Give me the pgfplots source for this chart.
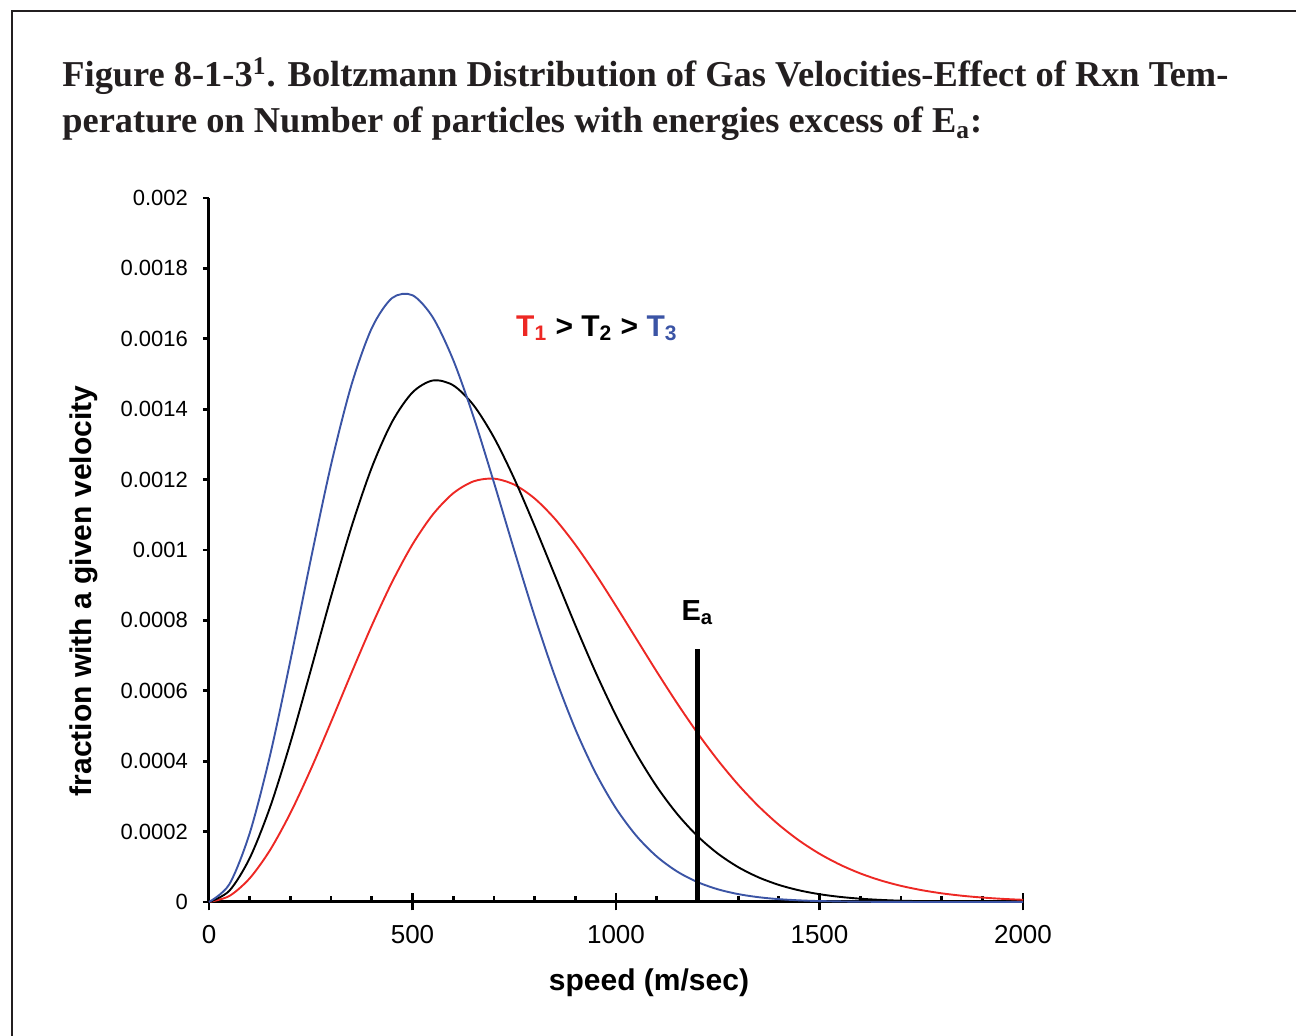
\documentclass[border=0pt]{standalone}
\usepackage{fontspec}
\setmainfont{Liberation Serif}
\newfontfamily\sansf{Liberation Sans}
\usepackage{pgfplots}
\pgfplotsset{compat=1.18}
\definecolor{tred}{RGB}{237,40,36}
\definecolor{tblue}{RGB}{59,84,165}
\definecolor{ink}{RGB}{35,31,32}
\pgfplotsset{
  frame/.style={
    at={(0,0)}, anchor=south west, scale only axis, width=407pt, height=352pt,
    xmin=0, xmax=2000, ymin=0, ymax=0.002,
    axis lines*=left,
    axis line style={line width=1.5pt, black},
    every tick/.style={black, line width=1.4pt},
  }
}
\begin{document}
\begin{tikzpicture}
\path[use as bounding box] (-104.5pt,-67pt) rectangle (543.5pt,451pt);
\draw[ink, line width=1pt] (-98.5pt,-80pt) -- (-98.5pt,445.5pt) -- (560pt,445.5pt);
\node[anchor=base west, inner sep=0pt, text=ink, font=\fontsize{18.2}{22}\selectfont\bfseries] at (-73.5pt,407.5pt)
  {Figure 8-1-3\textsuperscript{1}. Boltzmann Distribution of Gas Velocities-Effect of Rxn Tem-};
\node[anchor=base west, inner sep=0pt, text=ink, font=\fontsize{18.2}{22}\selectfont\bfseries] at (-73.5pt,384.5pt)
  {perature on Number of particles with energies excess of E\textsubscript{a}:};
\node[rotate=90, anchor=center, font=\sansf\bfseries\fontsize{15}{18}\selectfont] at (-62.5pt,155.5pt) {fraction with a given velocity};
\node[anchor=center, font=\sansf\bfseries\fontsize{15}{18}\selectfont] at (220pt,-40.5pt) {speed (m/sec)};
% major x ticks crossing the axis
\begin{axis}[frame,
  tick align=center, major tick length=8.5pt,
  xtick={0,500,1000,1500,2000}, xticklabels={},
  ytick=\empty,
]
\end{axis}
% minor x ticks inside
\begin{axis}[frame,
  tick align=inside, major tick length=3pt, minor tick length=3pt,
  xtick={0,500,1000,1500,2000}, xticklabels={}, minor x tick num=4,
  ytick=\empty,
]
\end{axis}
% main axis with data
\begin{axis}[frame,
  clip=false,
  /pgf/number format/assume math mode=true,
  tick align=outside,
  major tick length=3pt,
  xtick={0,500,1000,1500,2000},
  xticklabels={0,500,1000,1500,2000},
  ytick={0,0.0002,0.0004,0.0006,0.0008,0.001,0.0012,0.0014,0.0016,0.0018,0.002},
  yticklabels={0,0.0002,0.0004,0.0006,0.0008,0.001,0.0012,0.0014,0.0016,0.0018,0.002},
  scaled y ticks=false,
  xticklabel style={font=\sansf\fontsize{13}{15}\selectfont, yshift=-5pt},
  yticklabel style={font=\sansf\fontsize{11}{13}\selectfont, xshift=-4pt},
]
\addplot[tred, line width=0.95pt, smooth] coordinates {
(0,0) (50,1.708e-5) (100,6.727e-5) (150,1.4743e-4) (200,2.5264e-4) (250,3.7654e-4) (300,5.1178e-4) (350,6.5063e-4) (400,7.8544e-4) (450,9.092e-4) (500,1.0159e-3) (550,1.1008e-3) (600,1.1611e-3) (650,1.195e-3) (700,1.2027e-3) (750,1.1856e-3) (800,1.1464e-3) (850,1.0883e-3) (900,1.0152e-3) (950,9.3128e-4) (1000,8.4088e-4) (1050,7.4763e-4) (1100,6.5463e-4) (1150,5.6489e-4) (1200,4.805e-4) (1250,4.0313e-4) (1300,3.3354e-4) (1350,2.7233e-4) (1400,2.1943e-4) (1450,1.7449e-4) (1500,1.3704e-4) (1550,1.0623e-4) (1600,8.128e-5) (1650,6.143e-5) (1700,4.588e-5) (1750,3.385e-5) (1800,2.465e-5) (1850,1.775e-5) (1900,1.263e-5) (1950,8.87e-6) (2000,6.17e-6)
};
\addplot[black, line width=0.95pt, smooth] coordinates {
(0,0) (50,3.187e-5) (100,1.2447e-4) (150,2.6912e-4) (200,4.5247e-4) (250,6.5803e-4) (300,8.6802e-4) (350,1.0652e-3) (400,1.2344e-3) (450,1.3643e-3) (500,1.4476e-3) (550,1.4816e-3) (600,1.4678e-3) (650,1.4114e-3) (700,1.3199e-3) (750,1.2025e-3) (800,1.0685e-3) (850,9.2738e-4) (900,7.8648e-4) (950,6.5242e-4) (1000,5.297e-4) (1050,4.2112e-4) (1100,3.2807e-4) (1150,2.5052e-4) (1200,1.874e-4) (1250,1.3768e-4) (1300,9.917e-5) (1350,7.01e-5) (1400,4.862e-5) (1450,3.309e-5) (1500,2.213e-5) (1550,1.454e-5) (1600,9.37e-6) (1650,5.94e-6) (1700,3.69e-6) (1800,1.36e-6) (1900,4.6e-7) (2000,1.4e-7)
};
\addplot[tblue, line width=0.95pt, smooth] coordinates {
(0,0) (50,5.047e-5) (100,1.9539e-4) (150,4.1642e-4) (200,6.8616e-4) (250,9.7238e-4) (300,1.2427e-3) (350,1.4689e-3) (400,1.6304e-3) (450,1.7159e-3) (500,1.7237e-3) (550,1.6607e-3) (600,1.5399e-3) (650,1.378e-3) (700,1.1921e-3) (750,9.991e-4) (800,8.1203e-4) (850,6.4075e-4) (900,4.9131e-4) (950,3.6646e-4) (1000,2.66e-4) (1050,1.8799e-4) (1100,1.2934e-4) (1150,8.674e-5) (1200,5.673e-5) (1250,3.615e-5) (1300,2.248e-5) (1350,1.364e-5) (1400,8.08e-6) (1450,4.67e-6) (1500,2.63e-6) (1600,7.8e-7) (1700,2e-7) (1800,0) (1900,0) (2000,0)
};
\addplot[black, line width=2.8pt] coordinates {(1200,0) (1200,0.00072)};
\node[anchor=base, inner sep=0pt, font=\sansf\bfseries\fontsize{14.5}{16}\selectfont] at (axis cs:1200,0.0008) {E\textsubscript{a}};
\node[anchor=center, inner sep=0pt, font=\sansf\bfseries\fontsize{15}{18}\selectfont] at (axis cs:953,0.00163)
  {\textcolor{tred}{T\textsubscript{1}} > T\textsubscript{2} > \textcolor{tblue}{T\textsubscript{3}}};
\end{axis}
\end{tikzpicture}
\end{document}
